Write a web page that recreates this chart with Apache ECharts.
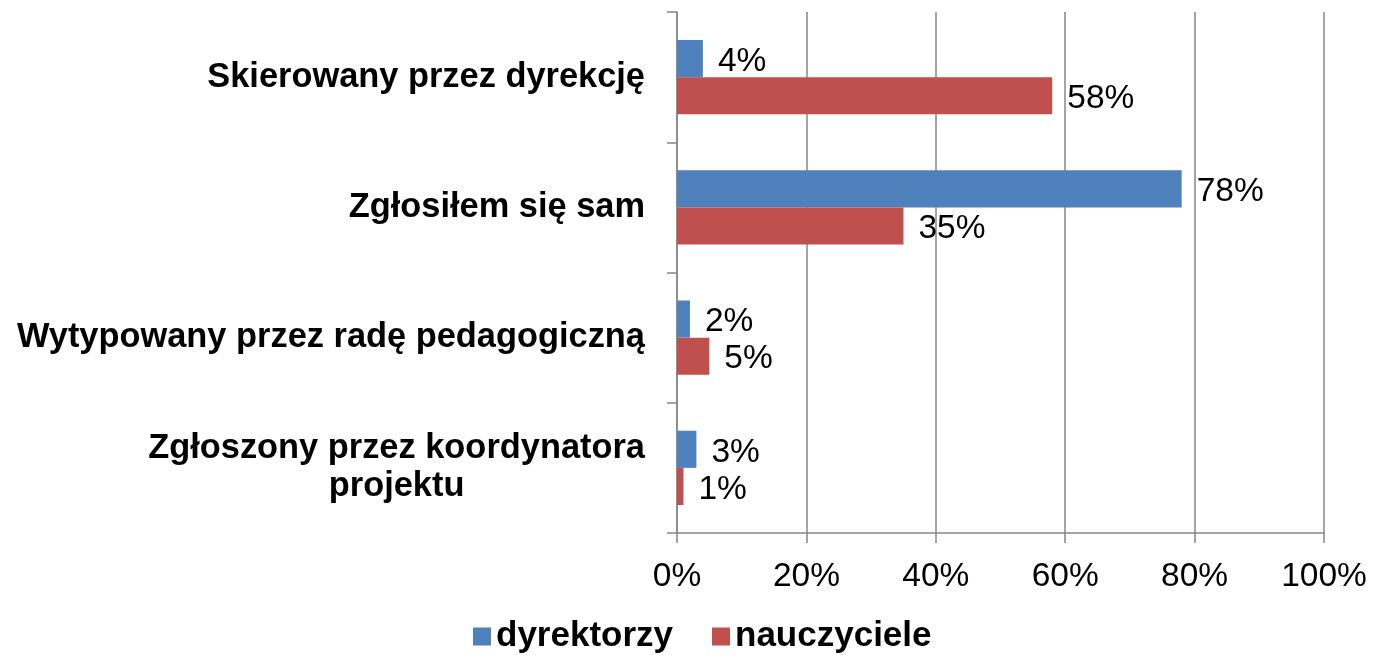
<!DOCTYPE html>
<html>
<head>
<meta charset="utf-8">
<script src="https://cdn.jsdelivr.net/npm/echarts@6/dist/echarts.min.js"></script>
<style>
    html, body {margin: 0; padding: 0; background: #fff;}
    #chart {width: 1373px; height: 655px;}
</style>
</head>
<body>
<div id="chart"></div>
<script>
// dane z wykresu
let categories = ['Skierowany przez dyrekcję', 'Zgłosiłem się sam', 'Wytypowany przez radę pedagogiczną', 'Zgłoszony przez koordynatora\nprojektu']
let dyrektorzy = [4, 78, 2, 3]
let nauczyciele = [58, 35, 5, 1]
let seriesNames = ['dyrektorzy', 'nauczyciele']

let font = "'Liberation Sans', Arial, sans-serif"
let gray = '#878787'

let myChart = echarts.init(document.getElementById('chart'))

let labelFormatter = function (value) {
    return value.split('\n').map(function (line, i) {
        return i === 0 ? '{a|' + line + '}' : '{c|' + line + '}'
    }).join('\n')
}

let barLabel = {
    show: true,
    position: 'right',
    distance: 15,
    offset: [0, 3],
    formatter: '{c}%',
    color: '#000',
    fontFamily: font,
    fontSize: 33.5
}

let option = {
    animation: false,
    color: ['#4F81BD', '#C0504D'],
    grid: {
        left: 677,
        right: 49,
        top: 12,
        bottom: 122
    },
    legend: {
        data: seriesNames,
        left: 473,
        top: 619,
        padding: 0,
        icon: 'rect',
        itemWidth: 18,
        itemHeight: 18,
        itemGap: 39,
        textStyle: {
            fontFamily: font,
            fontSize: 35,
            fontWeight: 'bold',
            color: '#000'
        }
    },
    xAxis: {
        type: 'value',
        min: 0,
        max: 100,
        interval: 20,
        axisLine: {show: true, lineStyle: {color: gray, width: 1.5}},
        axisTick: {show: true, length: 10, lineStyle: {color: gray, width: 1.5}},
        splitLine: {show: true, lineStyle: {color: gray, width: 1.5}},
        axisLabel: {
            formatter: '{value}%',
            margin: 27,
            color: '#000',
            fontFamily: font,
            fontSize: 33.5
        }
    },
    yAxis: {
        type: 'category',
        inverse: true,
        data: categories,
        axisLine: {show: true, lineStyle: {color: gray, width: 1.5}},
        axisTick: {show: true, length: 10, lineStyle: {color: gray, width: 1.5}},
        splitLine: {show: false},
        axisLabel: {
            margin: 32,
            formatter: labelFormatter,
            color: '#000',
            fontFamily: font,
            fontSize: 34.4,
            fontWeight: 'bold',
            lineHeight: 38,
            rich: {
                a: {fontFamily: font, fontSize: 34.4, fontWeight: 'bold', color: '#000', lineHeight: 38},
                c: {fontFamily: font, fontSize: 34.4, fontWeight: 'bold', color: '#000', lineHeight: 38, align: 'center'}
            }
        }
    },
    series: [
        {
            name: seriesNames[0],
            type: 'bar',
            data: dyrektorzy,
            barGap: '0%',
            barCategoryGap: '43%',
            label: barLabel
        },
        {
            name: seriesNames[1],
            type: 'bar',
            data: nauczyciele,
            barGap: '0%',
            barCategoryGap: '43%',
            label: barLabel
        }
    ]
}
myChart.setOption(option)
</script>
</body>
</html>
